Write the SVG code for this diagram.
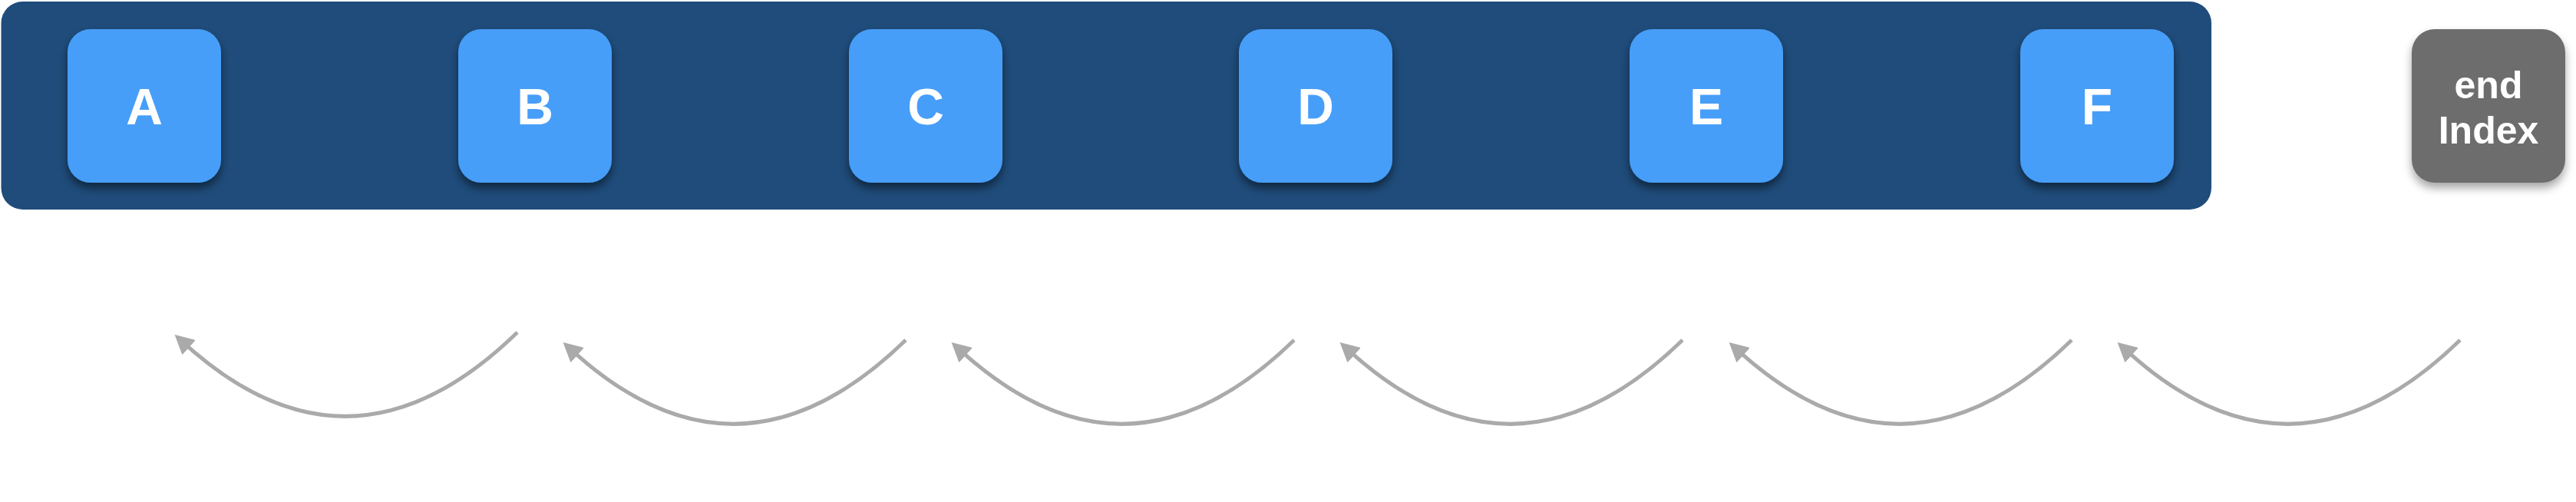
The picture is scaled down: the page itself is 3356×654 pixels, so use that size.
<svg xmlns="http://www.w3.org/2000/svg" width="3356" height="654" viewBox="0 0 3356 654">
  <style>
    .node { fill: #479ef8; }
    .end { fill: #6d6d6d; }
    .lbl { font-family: "Liberation Sans", Arial, sans-serif; font-weight: bold; fill: #ffffff; text-anchor: middle; }
    .big { font-size: 66px; }
    .small { font-size: 50px; }
    .arc { fill: none; stroke: #aaaaaa; stroke-width: 5; marker-end: url(#ah); }
  </style>
  <defs>
    <filter id="sh" x="-20%" y="-20%" width="140%" height="150%">
      <feDropShadow dx="0" dy="7" stdDeviation="6" flood-color="#000000" flood-opacity="0.5"/>
    </filter>
    <filter id="sh2" x="-20%" y="-20%" width="140%" height="150%">
      <feDropShadow dx="0" dy="7" stdDeviation="6" flood-color="#000000" flood-opacity="0.35"/>
    </filter>
    <marker id="ah" markerUnits="userSpaceOnUse" viewBox="0 0 25 26" markerWidth="25" markerHeight="26" refX="5" refY="13" orient="auto">
      <polygon points="0,0 25,13 0,26" fill="#aaaaaa"/>
    </marker>
  </defs>

  <g id="container">
    <rect x="1.5" y="2" width="2879.5" height="271" rx="28" ry="28" fill="#1f4c7b"/>
  </g>

  <g id="node-A">
    <rect class="node" x="88" y="38" width="200" height="200" rx="30" filter="url(#sh)"/>
    <text class="lbl big" x="188" y="162">A</text>
  </g>
  <g id="node-B">
    <rect class="node" x="597" y="38" width="200" height="200" rx="30" filter="url(#sh)"/>
    <text class="lbl big" x="697" y="162">B</text>
  </g>
  <g id="node-C">
    <rect class="node" x="1106" y="38" width="200" height="200" rx="30" filter="url(#sh)"/>
    <text class="lbl big" x="1206" y="162">C</text>
  </g>
  <g id="node-D">
    <rect class="node" x="1614" y="38" width="200" height="200" rx="30" filter="url(#sh)"/>
    <text class="lbl big" x="1714" y="162">D</text>
  </g>
  <g id="node-E">
    <rect class="node" x="2123" y="38" width="200" height="200" rx="30" filter="url(#sh)"/>
    <text class="lbl big" x="2223" y="162">E</text>
  </g>
  <g id="node-F">
    <rect class="node" x="2632" y="38" width="200" height="200" rx="30" filter="url(#sh)"/>
    <text class="lbl big" x="2732" y="162">F</text>
  </g>
  <g id="node-endIndex">
    <rect class="end" x="3142" y="38" width="200" height="200" rx="30" filter="url(#sh2)"/>
    <text class="lbl small" x="3242" y="128">end</text>
    <text class="lbl small" x="3242" y="187">Index</text>
  </g>

  <g id="connectors">
    <path class="arc" transform="translate(228,436)" d="M446,-3 Q230.2,207 14.45,13.42"/>
    <path class="arc" transform="translate(734,446)" d="M446,-3 Q230.2,207 14.45,13.42"/>
    <path class="arc" transform="translate(1240,446)" d="M446,-3 Q230.2,207 14.45,13.42"/>
    <path class="arc" transform="translate(1746,446)" d="M446,-3 Q230.2,207 14.45,13.42"/>
    <path class="arc" transform="translate(2253,446)" d="M446,-3 Q230.2,207 14.45,13.42"/>
    <path class="arc" transform="translate(2759,446)" d="M446,-3 Q230.2,207 14.45,13.42"/>
  </g>
</svg>
